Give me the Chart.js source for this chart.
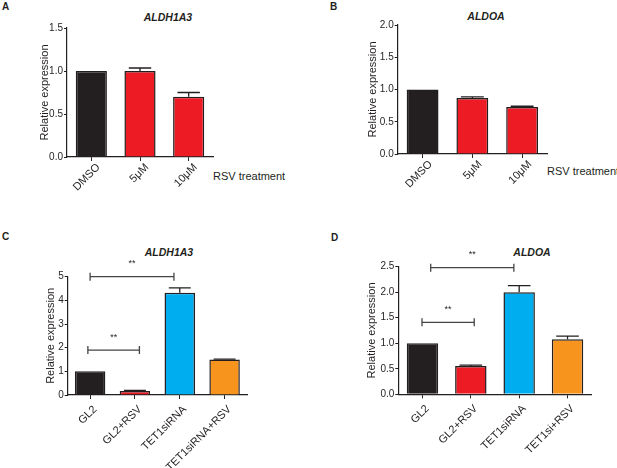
<!DOCTYPE html>
<html>
<head>
<meta charset="utf-8">
<script src="https://cdn.jsdelivr.net/npm/chart.js@4.4.1/dist/chart.umd.min.js"></script>
<style>
  body { margin: 0; background: #fff; width: 617px; height: 468px; position: relative; overflow: hidden;
         font-family: "Liberation Sans", Arial, sans-serif; color: #231f20; }
  canvas { position: absolute; }
  .letter { position: absolute; font-size: 10px; font-weight: bold; line-height: 1; }
  .gene { position: absolute; font-size: 10.5px; font-weight: bold; font-style: italic;
          transform: translate(-50%, -50%); white-space: nowrap; }
  .xname { position: absolute; font-size: 11px; transform: translateY(-50%); white-space: nowrap; }
</style>
</head>
<body>

<div class="letter" style="left:2px;top:2px">A</div>
<div class="letter" style="left:330px;top:2px">B</div>
<div class="letter" style="left:2px;top:232px">C</div>
<div class="letter" style="left:331px;top:233px">D</div>

<div class="gene" style="left:168px;top:17px">ALDH1A3</div>
<div class="gene" style="left:486px;top:16px">ALDOA</div>
<div class="gene" style="left:169px;top:252px">ALDH1A3</div>
<div class="gene" style="left:532px;top:252px">ALDOA</div>

<div class="xname" style="left:213px;top:176px">RSV treatment</div>
<div class="xname" style="left:547px;top:171px">RSV treatment</div>

<canvas id="chartA" width="300" height="225" style="left:0;top:0;width:300px;height:225px"></canvas>
<canvas id="chartB" width="317" height="225" style="left:300px;top:0;width:317px;height:225px"></canvas>
<canvas id="chartC" width="300" height="238" style="left:0;top:230px;width:300px;height:238px"></canvas>
<canvas id="chartD" width="317" height="238" style="left:300px;top:230px;width:317px;height:238px"></canvas>

<script>
// ---- data ----
const treatCats = ['DMSO', '5μM', '10μM'];
const aldh1a3Rsv = [1.0, 1.0, 0.70];
const aldh1a3RsvErr = [0, 0.035, 0.05];
const aldoaRsv = [1.0, 0.87, 0.73];
const aldoaRsvErr = [0, 0.015, 0.01];

const siCatsC = ['GL2', 'GL2+RSV', 'TET1siRNA', 'TET1siRNA+RSV'];
const aldh1a3Si = [1.0, 0.17, 4.32, 1.50];
const aldh1a3SiErr = [0, 0.02, 0.21, 0.02];

const siCatsD = ['GL2', 'GL2+RSV', 'TET1siRNA', 'TET1si+RSV'];
const aldoaSi = [1.0, 0.555, 2.0, 1.08];
const aldoaSiErr = [0, 0.015, 0.13, 0.06];

const ticksA = [0.0, 0.5, 1.0, 1.5];
const ticksB = [0.0, 0.5, 1.0, 1.5, 2.0];
const ticksC = [0, 1, 2, 3, 4, 5];
const ticksD = [0.0, 0.5, 1.0, 1.5, 2.0, 2.5];

// significance: [from category, to category, y value, label]
const sigC = [[0.0, 1.87, 5.0, '**'], [-0.05, 1.1, 1.9, '**']];
const sigD = [[0.17, 1.89, 2.48, '**'], [-0.01, 1.07, 1.41, '**']];

const BLACK = '#231f20', RED = '#ed1c24', BLUE = '#00aeef', ORANGE = '#f7941d';
const FONT = '"Liberation Sans", Arial, sans-serif';

// error bars (upward only) + comparison brackets
const extras = {
  id: 'extras',
  afterDatasetsDraw(chart, args, opts) {
    const ctx = chart.ctx;
    const x = chart.scales.x, y = chart.scales.y;
    const meta = chart.getDatasetMeta(0);
    const vals = chart.data.datasets[0].data;
    ctx.save();
    ctx.strokeStyle = BLACK;
    ctx.lineWidth = 1.3;
    meta.data.forEach((bar, i) => {
      const e = opts.err[i];
      if (!e) return;
      const top = y.getPixelForValue(vals[i] + e);
      const hw = bar.width * 0.36;
      ctx.beginPath();
      ctx.moveTo(bar.x, bar.y);
      ctx.lineTo(bar.x, top);
      ctx.moveTo(bar.x - hw, top);
      ctx.lineTo(bar.x + hw, top);
      ctx.stroke();
    });
    ctx.strokeStyle = '#444';
    ctx.fillStyle = BLACK;
    ctx.font = '9px ' + FONT;
    ctx.textAlign = 'center';
    ctx.textBaseline = 'middle';
    (opts.sig || []).forEach(([a, b, v, txt]) => {
      const x1 = x.getPixelForValue(a), x2 = x.getPixelForValue(b);
      const yy = y.getPixelForValue(v);
      ctx.beginPath();
      ctx.moveTo(x1, yy); ctx.lineTo(x2, yy);
      ctx.moveTo(x1, yy - 4); ctx.lineTo(x1, yy + 4);
      ctx.moveTo(x2, yy - 4); ctx.lineTo(x2, yy + 4);
      ctx.stroke();
      ctx.fillText(txt, (x1 + x2) / 2, yy - 13);
    });
    ctx.restore();
  }
};

function makePanel(id, cats, vals, err, colors, yTicks, sig, lay) {
  return new Chart(document.getElementById(id), {
    type: 'bar',
    data: {
      labels: cats,
      datasets: [{
        data: vals,
        backgroundColor: colors,
        borderColor: BLACK,
        borderWidth: 1.5,
        barPercentage: lay.bar,
        categoryPercentage: 1
      }]
    },
    options: {
      responsive: false,
      animation: false,
      events: [],
      layout: { padding: { left: lay.left, top: lay.top, right: lay.right, bottom: 0 } },
      plugins: {
        legend: { display: false },
        tooltip: { enabled: false },
        extras: { err: err, sig: sig }
      },
      scales: {
        x: {
          offset: true,
          grid: { display: true, drawOnChartArea: false, offset: false, tickLength: 4, color: BLACK },
          border: { color: BLACK, width: 1.2 },
          ticks: { autoSkip: false, minRotation: 45, maxRotation: 45, padding: lay.tp, labelOffset: lay.lo,
                   color: BLACK, font: { family: FONT, size: 11 } },
          afterFit: s => { s.height = lay.xh; }
        },
        y: {
          min: yTicks[0],
          max: yTicks[yTicks.length - 1],
          afterBuildTicks: s => { s.ticks = yTicks.map(v => ({ value: v })); },
          grid: { display: true, drawOnChartArea: false, tickLength: 3, color: BLACK },
          border: { color: BLACK, width: 1.2 },
          ticks: { padding: 1, color: BLACK, font: { family: FONT, size: 10 },
                   callback: v => lay.dec ? v.toFixed(1) : String(v) },
          title: { display: true, text: 'Relative expression', color: BLACK, padding: 0,
                   font: { family: FONT, size: 11 } },
          afterFit: s => { s.width = lay.yw; }
        }
      }
    },
    plugins: [extras]
  });
}

makePanel('chartA', treatCats, aldh1a3Rsv, aldh1a3RsvErr, [BLACK, RED, RED], ticksA, [],
  { left: 38, yw: 29, top: 28, right: 87, xh: 68, bar: 0.64, dec: true, lo: 7, tp: 0 });
makePanel('chartB', treatCats, aldoaRsv, aldoaRsvErr, [BLACK, RED, RED], ticksB, [],
  { left: 66, yw: 31.7, top: 25, right: 70, xh: 71, bar: 0.64, dec: true, lo: 8, tp: 0 });
makePanel('chartC', siCatsC, aldh1a3Si, aldh1a3SiErr, [BLACK, RED, BLUE, ORANGE], ticksC, sigC,
  { left: 44, yw: 23.7, top: 46.7, right: 53, xh: 73, bar: 0.68, dec: false, lo: 5, tp: 4 });
makePanel('chartD', siCatsD, aldoaSi, aldoaSiErr, [BLACK, RED, BLUE, ORANGE], ticksD, sigD,
  { left: 65.5, yw: 32.8, top: 36.7, right: 25.3, xh: 73.7, bar: 0.65, dec: true, lo: 5, tp: 4 });
</script>
</body>
</html>
